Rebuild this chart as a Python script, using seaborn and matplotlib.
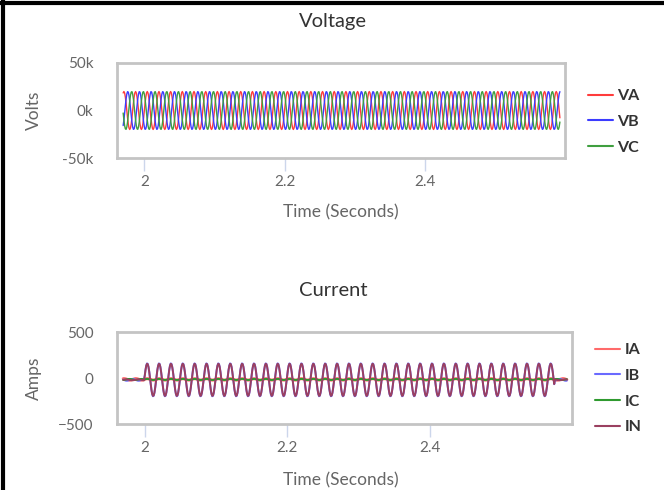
import numpy as np
import pandas as pd
import matplotlib
matplotlib.use("Agg")
import matplotlib.pyplot as plt
import seaborn as sns
from matplotlib.lines import Line2D

# ---------------- data ----------------
voltage_names = ["VA", "VB", "VC"]
voltage_peak = [20000, 20000, 20000]          # volts
voltage_phase_deg = [0, -120, 120]
current_names = ["IA", "IB", "IC", "IN"]
current_peak = [8, 180, 6, 176]                # amps during event
current_offset = [-15, -20, -16, -20]          # amps
current_prefault_peak = [8, 10, 6, 5]          # amps before event
frequency_hz = 60.0
samples_per_cycle = 16
record_start, record_end = 1.9698, 2.5935      # seconds
event_start, event_end = 1.9993, 2.5760        # seconds
x_ticks = [2.0, 2.2, 2.4]
x_tick_labels = ["2", "2.2", "2.4"]
v_ticks = [-50000, 0, 50000]
v_tick_labels = ["-50k", "0k", "50k"]
i_ticks = [-500, 0, 500]
i_tick_labels = ["\u2212500", "0", "500"]

v_colors = ["#ff3c3c", "#3c3cff", "#3f9f3f"]
i_colors = ["#ff6a6a", "#6a6aff", "#2f9a2f", "#9a4060"]

# ---------------- build tables ----------------
t = np.arange(record_start, record_end, 1.0 / (frequency_hz * samples_per_cycle))
w = 2 * np.pi * frequency_hz
rows = []
for name, amp, ph in zip(voltage_names, voltage_peak, voltage_phase_deg):
    v = amp * np.sin(w * t + np.deg2rad(ph))
    rows.append(pd.DataFrame({"Time": t, "Value": v, "Phase": name}))
df_v = pd.concat(rows, ignore_index=True)

rows = []
active = (t >= event_start) & (t <= event_end)
for k, (name, amp, off, pre) in enumerate(zip(current_names, current_peak, current_offset, current_prefault_peak)):
    base = np.sin(w * (t - event_start))
    small = np.sin(w * t + k * 1.7)
    v = np.where(active, off + amp * base, off + pre * small)
    rows.append(pd.DataFrame({"Time": t, "Value": v, "Phase": name}))
df_i = pd.concat(rows, ignore_index=True)

# ---------------- figure ----------------
sns.set_theme(style="white")
plt.rcParams["font.family"] = ["Lato", "DejaVu Sans"]

W, H = 664, 490
fig = plt.figure(figsize=(W / 100, H / 100), dpi=100)

def box(x0, y0, x1, y1):
    return [x0 / W, 1 - y1 / H, (x1 - x0) / W, (y1 - y0) / H]

ax1 = fig.add_axes(box(117, 63, 565, 158))
ax2 = fig.add_axes(box(117, 332, 572, 424))

sns.lineplot(data=df_v, x="Time", y="Value", hue="Phase", hue_order=voltage_names,
             palette=v_colors, estimator=None, sort=False, linewidth=1.0, ax=ax1, legend=False)
sns.lineplot(data=df_i, x="Time", y="Value", hue="Phase", hue_order=current_names,
             palette=i_colors, estimator=None, sort=False, linewidth=1.4, ax=ax2, legend=False)
# the flat phase A trace is drawn thicker in the reference
ax2.get_lines()[0].set_linewidth(2.2)

def style_axis(ax, yticks, ylabels, ylim, ylabel, box_w, box_h, xlabel_top_px):
    ax.set_xlim(1.961, 2.6)
    ax.set_ylim(*ylim)
    ax.set_xticks(x_ticks)
    ax.set_xticklabels(x_tick_labels)
    ax.set_yticks(yticks)
    ax.set_yticklabels(ylabels)
    for s in ax.spines.values():
        s.set_color("#c4c4c4")
        s.set_linewidth(2)
    ax.tick_params(axis="x", length=9, width=1, color="#ccd6eb", pad=3,
                   labelsize=11, labelcolor="#666666", bottom=True, direction="out")
    ax.tick_params(axis="y", length=0, pad=17, labelsize=11, labelcolor="#666666")
    ax.set_ylabel(ylabel, fontsize=12.5, color="#666666")
    ax.yaxis.set_label_coords((42 - 117) / box_w, 0.5)
    ax.set_xlabel("Time (Seconds)", fontsize=12.5, color="#666666")
    ax.xaxis.set_label_coords((341 - 117) / box_w, xlabel_top_px / box_h)
    ax.grid(False)

style_axis(ax1, v_ticks, v_tick_labels, (-50000, 50000), "Volts", 448, 95, (158 - 204))
style_axis(ax2, i_ticks, i_tick_labels, (-500, 500), "Amps", 455, 92, (424 - 472))

fig.text(333 / W, 1 - 22 / H, "Voltage", ha="center", va="center", fontsize=14.5, color="#333333")
fig.text(333 / W, 1 - 291 / H, "Current", ha="center", va="center", fontsize=14.5, color="#333333")

def add_legend(names, colors, x_px, y_px):
    handles = [Line2D([0], [0], color=c, lw=1.5) for c in colors]
    leg = fig.legend(handles, names, loc="upper left", bbox_to_anchor=(x_px / W, 1 - y_px / H),
                     frameon=False, borderpad=0, borderaxespad=0, handlelength=1.55,
                     handletextpad=0.3, labelspacing=0.72,
                     prop={"size": 11.5, "weight": "bold"})
    for txt in leg.get_texts():
        txt.set_color("#333333")
    return leg

add_legend(voltage_names, v_colors, 588, 89)
add_legend(current_names, i_colors, 595, 343)

# outer black border (top and left)
fig.add_artist(Line2D([0, 1], [1 - 3.5 / H, 1 - 3.5 / H], transform=fig.transFigure, color="black", lw=3))
fig.add_artist(Line2D([3.5 / W, 3.5 / W], [0, 1], transform=fig.transFigure, color="black", lw=3))

fig.savefig("out.png", dpi=100)
